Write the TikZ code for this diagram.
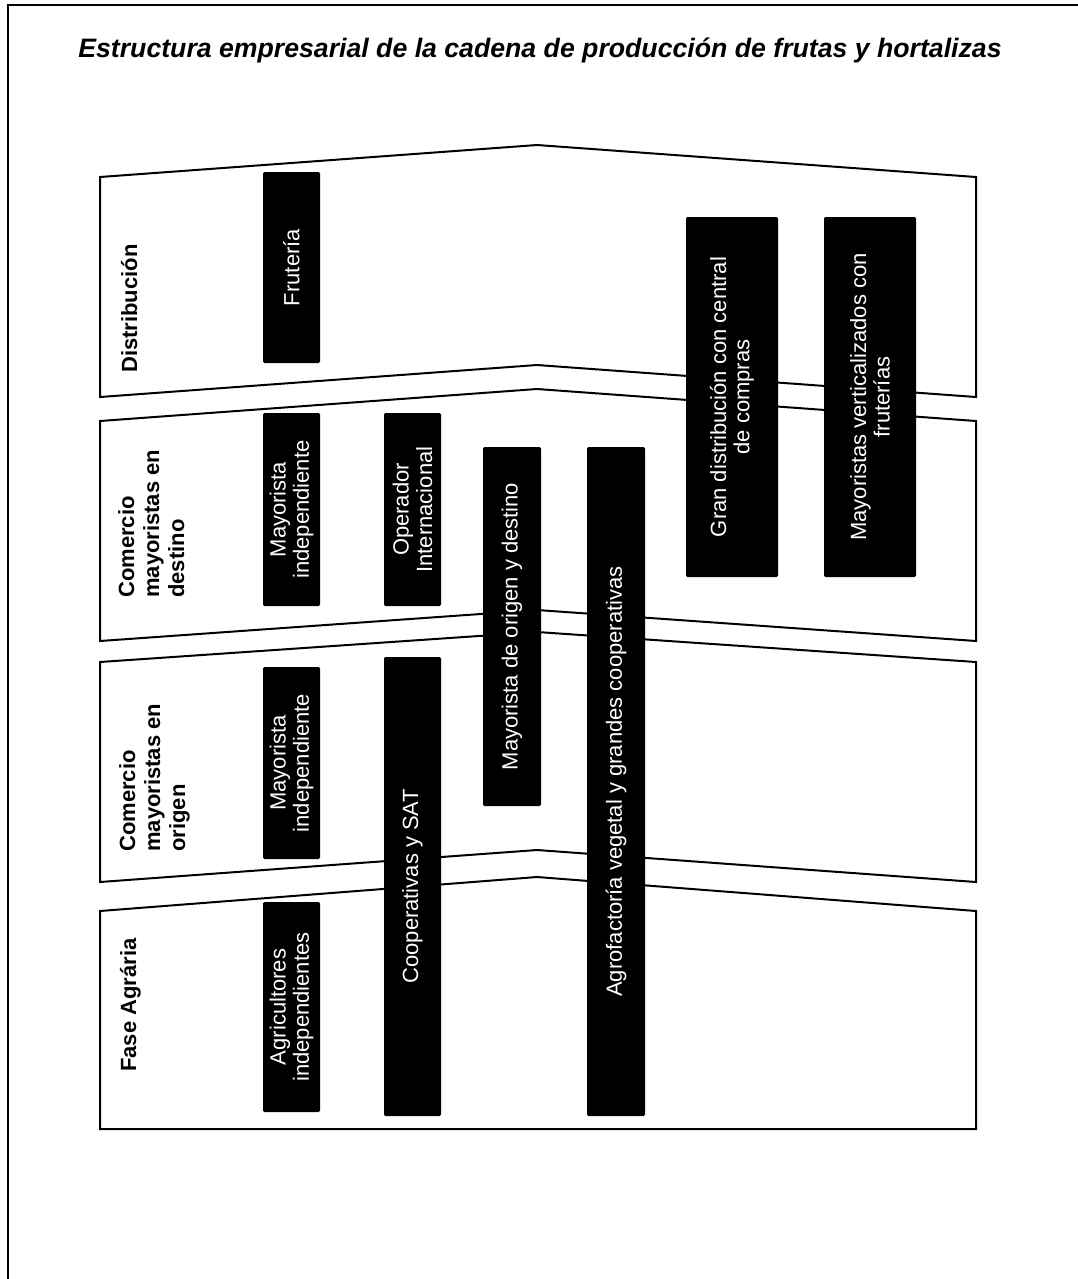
\documentclass[tikz,border=0pt]{standalone}
\usepackage{fontspec}
\setmainfont{Liberation Sans}
\usepackage{tikz}
\tikzstyle{franja} = [
    draw=black,
    line width=1.5pt,
    fill=white
]
\tikzstyle{bloque} = [
    rectangle,
    rounded corners=1pt,
    fill=black,
    text=white,
    rotate=90,
    align=center,
    inner sep=0pt,
    font=\fontsize{16.5}{17.5}\selectfont
]
\tikzstyle{fase} = [
    rotate=90,
    align=left,
    inner sep=0pt,
    font=\fontsize{16.5}{18.75}\selectfont\bfseries
]
\tikzstyle{titulo} = [font=\fontsize{20}{24}\selectfont\bfseries\itshape]

\begin{document}
\begin{tikzpicture}[x=0.75pt, y=-0.75pt]

\useasboundingbox (0,0) rectangle (1078,1279);

\draw [line width=2pt] (8,1279) -- (8,5) -- (1078,5);

\node (titulo) [titulo] at (540,50)
{Estructura empresarial de la cadena de producción de frutas y hortalizas};

\draw [franja] (100,177) -- (537,145) -- (976,177) -- (976,397) -- (537,365) -- (100,397) -- cycle;
\draw [franja] (100,421) -- (537,389) -- (976,421) -- (976,641) -- (537,610) -- (100,641) -- cycle;
\draw [franja] (100,662) -- (537,632) -- (976,662) -- (976,882) -- (537,850) -- (100,882) -- cycle;
\draw [franja] (100,911) -- (537,877) -- (976,911) -- (976,1129) -- (100,1129) -- cycle;

\node (distrib) [fase, anchor=base west] at (137,373) {Distribución};

\node (destino) [fase, anchor=north west] at (118,598)
{Comercio\\mayoristas en\\destino};

\node (origen) [fase, anchor=north west] at (119,852)
{Comercio\\mayoristas en\\origen};

\node (agraria) [fase, anchor=base west] at (136,1072) {Fase Agrária};

\node (fruteria) [bloque, minimum width=143.25pt, minimum height=42.75pt]
at (291.5,267.5) {Frutería};

\node (mayDestino) [bloque, minimum width=144.75pt, minimum height=42.75pt]
at (291.5,509.5) {Mayorista\\independiente};

\node (operador) [bloque, minimum width=144.75pt, minimum height=42.75pt]
at (412.5,509.5) {Operador\\Internacional};

\node (mayOrigDest) [bloque, minimum width=269.25pt, minimum height=43.5pt]
at (512,626.5) {Mayorista de origen y destino};

\node (agrofactoria) [bloque, minimum width=501.75pt, minimum height=43.5pt]
at (616,781.5) {Agrofactoría vegetal y grandes cooperativas};

\node (granDist) [bloque, minimum width=270pt, minimum height=69pt]
at (732,397) {Gran distribución con central\\de compras};

\node (mayVert) [bloque, minimum width=270pt, minimum height=69pt]
at (870,397) {Mayoristas verticalizados con\\fruterías};

\node (mayOrigen) [bloque, minimum width=144pt, minimum height=42.75pt]
at (291.5,763) {Mayorista\\independiente};

\node (cooperativas) [bloque, minimum width=344.25pt, minimum height=42.75pt]
at (412.5,886.5) {Cooperativas y SAT};

\node (agricultores) [bloque, minimum width=157.5pt, minimum height=42.75pt]
at (291.5,1007) {Agricultores\\independientes};

\end{tikzpicture}
\end{document}
